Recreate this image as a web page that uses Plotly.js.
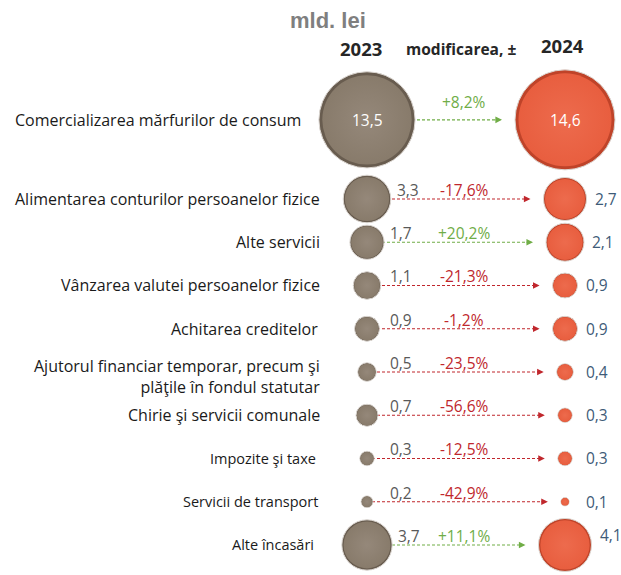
<!DOCTYPE html>
<html><head><meta charset="utf-8">
<script src="https://cdn.plot.ly/plotly-3.0.1.min.js"></script>
<style>html,body{margin:0;padding:0;background:#fff;}#chart{width:621px;height:575px;}</style>
</head><body><div id="chart"></div>
<script>
const categories = [
  "Comercializarea mărfurilor de consum",
  "Alimentarea conturilor persoanelor fizice",
  "Alte servicii",
  "Vânzarea valutei persoanelor fizice",
  "Achitarea creditelor",
  "Ajutorul financiar temporar, precum şi<br>plăţile în fondul statutar",
  "Chirie şi servicii comunale",
  "Impozite şi taxe",
  "Servicii de transport",
  "Alte încasări"
];
const values2023 = [13.5, 3.3, 1.7, 1.1, 0.9, 0.5, 0.7, 0.3, 0.2, 3.7];
const values2024 = [14.6, 2.7, 2.1, 0.9, 0.9, 0.4, 0.3, 0.3, 0.1, 4.1];
const changePct = [8.2, -17.6, 20.2, -21.3, -1.2, -23.5, -56.6, -12.5, -42.9, 11.1];
const headers = {unit: "mld. lei", y2023: "2023", change: "modificarea, ±", y2024: "2024"};

// layout helpers
const FONT = "'Open Sans', sans-serif";
const X23 = 367, X24 = 565;
const labelRight = [303, 322, 322, 322, 320, 322, 322, 318, 320, 316];
const rowY = categories.map((c, i) => i === 0 ? -0.83 : i);
const SREF = 0.00292;
const radius = v => Math.sqrt(v / 2 / SREF);
const fmt = v => v.toFixed(1).replace('.', ',');
const fmtPct = v => (v > 0 ? '+' : '') + v.toFixed(1).replace('.', ',') + '%';
const GREEN = '#70AD47', RED = '#C0272D';
const py = p => 1 - p / 575;

const traces = [];
// dashed arrow shafts
categories.forEach((c, i) => {
  const tip = X24 - radius(values2024[i]) - 13;
  traces.push({
    x: [X23, tip - 4], y: [rowY[i], rowY[i]], mode: 'lines', hoverinfo: 'skip',
    line: {color: changePct[i] >= 0 ? GREEN : RED, width: 1.1, dash: '3px,2px'}, showlegend: false
  });
});
function bubbles(xc, vals, outer, inner, center) {
  traces.push({
    x: vals.map(() => xc), y: rowY, mode: 'markers', hoverinfo: 'skip', showlegend: false,
    marker: {size: vals, sizemode: 'area', sizeref: SREF, color: outer, opacity: 1,
             line: {color: '#dcd7d2', width: 1}}
  });
  traces.push({
    x: vals.map(() => xc), y: rowY, mode: 'markers', hoverinfo: 'skip', showlegend: false,
    marker: {size: vals, sizemode: 'area', sizeref: SREF / (0.93 * 0.93), color: inner, opacity: 1,
             gradient: {type: 'radial', color: center}, line: {width: 0}}
  });
}
bubbles(X23, values2023, '#685c4f', '#887b6b', '#95887a');
bubbles(X24, values2024, '#bf4329', '#e85e3f', '#ed6b4d');

const ann = [];
// headers
ann.push({x: 328, y: py(21), yref: 'paper', text: '<b>' + headers.unit + '</b>', showarrow: false, yanchor: 'middle',
  font: {family: "'Liberation Sans', Arial, sans-serif", size: 22, color: '#7f7f7f'}});
ann.push({x: 361, y: py(48), yref: 'paper', text: '<b>' + headers.y2023 + '</b>', showarrow: false, yanchor: 'middle',
  font: {family: FONT, size: 18.5, color: '#262626'}});
ann.push({x: 461, y: py(49), yref: 'paper', text: '<b>' + headers.change + '</b>', showarrow: false, yanchor: 'middle',
  font: {family: FONT, size: 15.5, color: '#262626'}});
ann.push({x: 562, y: py(46), yref: 'paper', text: '<b>' + headers.y2024 + '</b>', showarrow: false, yanchor: 'middle',
  font: {family: FONT, size: 18.5, color: '#262626'}});

categories.forEach((c, i) => {
  const y = rowY[i];
  // category label
  ann.push({x: labelRight[i], y: y, text: c, showarrow: false, xanchor: 'right', align: 'right',
    yshift: c.includes('<br>') ? -5 : 0,
    font: {family: FONT, size: i >= 7 ? 14.5 : 16, color: '#1a1a1a'}});
  // arrowhead
  const tip = X24 - radius(values2024[i]) - 13;
  const col = changePct[i] >= 0 ? GREEN : RED;
  ann.push({x: tip, y: y, ax: tip - 8, ay: y, axref: 'x', ayref: 'y', text: '', showarrow: true,
    arrowhead: 2, arrowsize: 1.1, arrowwidth: 1.2, arrowcolor: col, standoff: 0});
  // percent
  ann.push({x: 464, y: y, text: fmtPct(changePct[i]), showarrow: false, yshift: i === 0 ? 18 : 9,
    font: {family: FONT, size: 15.5, color: changePct[i] >= 0 ? GREEN : RED}});
  // values
  if (i === 0) {
    ann.push({x: X23, y: y, text: fmt(values2023[i]), showarrow: false,
      font: {family: FONT, size: 15.5, color: '#ffffff'}});
    ann.push({x: X24, y: y, text: fmt(values2024[i]), showarrow: false,
      font: {family: FONT, size: 15.5, color: '#ffffff'}});
  } else {
    ann.push({x: X23 + Math.max(radius(values2023[i]), 17) + 4, y: y, text: fmt(values2023[i]), showarrow: false,
      xanchor: 'left', yshift: 9, font: {family: FONT, size: 15.5, color: '#595959'}});
    ann.push({x: X24 + Math.max(radius(values2024[i]) + 6, 19), y: y, text: fmt(values2024[i]), showarrow: false,
      xanchor: 'left', yshift: i === categories.length - 1 ? 10 : 0, font: {family: FONT, size: 15.5, color: '#3E5B78'}});
  }
});

const layout = {
  width: 621, height: 575, margin: {l: 0, r: 0, t: 0, b: 0},
  paper_bgcolor: '#ffffff', plot_bgcolor: '#ffffff',
  xaxis: {range: [0, 621], visible: false, fixedrange: true},
  yaxis: {range: [9.694, -3.601], visible: false, fixedrange: true},
  annotations: ann, showlegend: false
};
Plotly.newPlot('chart', traces, layout, {displayModeBar: false, staticPlot: true});
</script></body></html>
